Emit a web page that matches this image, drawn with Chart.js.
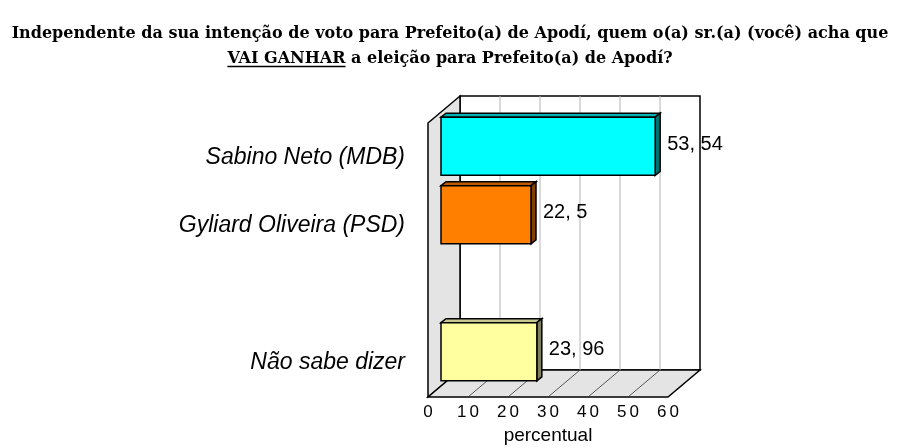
<!DOCTYPE html>
<html>
<head>
<meta charset="utf-8">
<script src="https://cdn.jsdelivr.net/npm/chart.js@4/dist/chart.umd.min.js"></script>
<style>
  html, body { margin: 0; padding: 0; background: #fff; }
  #wrap { width: 900px; height: 448px; }
</style>
</head>
<body>
<div id="wrap"><canvas id="chart" width="900" height="448"></canvas></div>
<script>
// --- données ---
const categories = ['Sabino Neto (MDB)', 'Gyliard Oliveira (PSD)', '', 'Não sabe dizer'];
const percentuais = [53.54, 22.5, null, 23.96];
const frontColors = ['#00ffff', '#ff8000', null, '#ffffa0'];
const topColors = ['#00b4b4', '#c05a00', null, '#c8c890'];
const sideColors = ['#007070', '#804000', null, '#808060'];
const xTicks = [0, 10, 20, 30, 40, 50, 60];
const titleLines = [
    'Independente da sua intenção de voto para Prefeito(a) de Apodí, quem o(a) sr.(a) (você) acha que',
    'VAI GANHAR a eleição para Prefeito(a) de Apodí?'
];
const underlined = 'VAI GANHAR';

// profondeur du graphique 3D (pixels)
const DEPTH = { x: 32, y: -27 };
const BAR_FRONT = { x: 13, y: -11 };
const BAR_DEPTH = { x: 5, y: -4 };

const TITLE_FONT = { family: '"DejaVu Serif", serif', size: 16, weight: 'bold', lineHeight: '25px' };

function poly(ctx, pts, fill) {
    ctx.beginPath();
    ctx.moveTo(pts[0][0], pts[0][1]);
    for (let i = 1; i < pts.length; i++) ctx.lineTo(pts[i][0], pts[i][1]);
    ctx.closePath();
    if (fill) { ctx.fillStyle = fill; ctx.fill(); }
    ctx.stroke();
}

// Dessine les murs, le sol et la grille en perspective
const wallsPlugin = {
    id: 'walls3d',
    afterLayout(chart) {
        // graduations de l'axe x un peu espacées, comme sur l'original
        const xs = chart.scales.x;
        if (xs._spaced) return;
        const orig = xs.drawLabels;
        xs.drawLabels = function (area) {
            const c = this.ctx;
            c.save();
            c.letterSpacing = '3px';
            c.translate(1.5, 0);
            orig.call(this, area);
            c.restore();
        };
        xs._spaced = true;
    },
    beforeDatasetsDraw(chart) {
        const ctx = chart.ctx;
        const a = chart.chartArea;
        const xs = chart.scales.x;
        const dx = DEPTH.x, dy = DEPTH.y;
        ctx.save();
        ctx.lineWidth = 1.5;
        ctx.strokeStyle = '#000';
        // mur du fond
        poly(ctx, [[a.left + dx, a.top + dy], [a.right + dx, a.top + dy], [a.right + dx, a.bottom + dy], [a.left + dx, a.bottom + dy]], '#fff');
        // mur gauche
        poly(ctx, [[a.left, a.top], [a.left + dx, a.top + dy], [a.left + dx, a.bottom + dy], [a.left, a.bottom]], '#e4e4e4');
        // sol
        poly(ctx, [[a.left, a.bottom], [a.left + dx, a.bottom + dy], [a.right + dx, a.bottom + dy], [a.right, a.bottom]], '#e4e4e4');

        // grille verticale sur le mur du fond + lignes du sol
        xTicks.forEach((v, i) => {
            if (i === 0 || i === xTicks.length - 1) return;
            const px = xs.getPixelForValue(v);
            ctx.lineWidth = 1;
            ctx.strokeStyle = '#b4b4b4';
            ctx.beginPath();
            ctx.moveTo(px + dx, a.top + dy);
            ctx.lineTo(px + dx, a.bottom + dy);
            ctx.stroke();
            ctx.strokeStyle = '#333';
            ctx.lineWidth = 0.8;
            ctx.beginPath();
            ctx.moveTo(px, a.bottom);
            ctx.lineTo(px + dx, a.bottom + dy);
            ctx.stroke();
        });

        // barres en 3D, à partir des éléments calculés par Chart.js
        const meta = chart.getDatasetMeta(0);
        ctx.lineWidth = 1.5;
        ctx.strokeStyle = '#000';
        meta.data.forEach((bar, i) => {
            if (percentuais[i] == null) return;
            const p = bar.getProps(['x', 'y', 'base', 'height'], true);
            const x0 = p.base + BAR_FRONT.x, x1 = p.x + BAR_FRONT.x;
            const y0 = p.y - p.height / 2 + BAR_FRONT.y, y1 = p.y + p.height / 2 + BAR_FRONT.y;
            const bx = BAR_DEPTH.x, by = BAR_DEPTH.y;
            poly(ctx, [[x0, y0], [x0 + bx, y0 + by], [x1 + bx, y0 + by], [x1, y0]], topColors[i]);
            poly(ctx, [[x1, y0], [x1 + bx, y0 + by], [x1 + bx, y1 + by], [x1, y1]], sideColors[i]);
            poly(ctx, [[x0, y0], [x1, y0], [x1, y1], [x0, y1]], frontColors[i]);

            // étiquette de valeur
            ctx.fillStyle = '#000';
            ctx.font = '20px Arial, "Liberation Sans", sans-serif';
            ctx.textAlign = 'left';
            ctx.textBaseline = 'middle';
            const txt = String(percentuais[i]).replace('.', ', ');
            ctx.fillText(txt, x1 + bx + 7, (y0 + y1) / 2 - 2);
        });
        ctx.restore();
        return false;
    },
    afterDraw(chart) {
        // soulignement de "VAI GANHAR" dans le titre
        const ctx = chart.ctx;
        const tb = chart.titleBlock;
        ctx.save();
        ctx.font = `${TITLE_FONT.weight} ${TITLE_FONT.size}px ${TITLE_FONT.family}`;
        const cx = (tb.left + tb.right) / 2;
        const w = ctx.measureText(titleLines[1]).width;
        const wu = ctx.measureText(underlined).width;
        const start = cx - w / 2;
        const y = tb.top + tb.options.padding.top + 25 * 1.5 + 8;
        ctx.strokeStyle = '#000';
        ctx.lineWidth = 1.4;
        ctx.beginPath();
        ctx.moveTo(start, y);
        ctx.lineTo(start + wu, y);
        ctx.stroke();
        ctx.restore();
    }
};

new Chart(document.getElementById('chart'), {
    type: 'bar',
    data: {
        labels: categories,
        datasets: [{
            data: percentuais,
            backgroundColor: frontColors,
            barPercentage: 0.85,
            categoryPercentage: 1
        }]
    },
    options: {
        indexAxis: 'y',
        responsive: false,
        animation: false,
        layout: { padding: 0 },
        plugins: {
            legend: { display: false },
            tooltip: { enabled: false },
            title: {
                display: true,
                text: titleLines,
                color: '#000',
                font: TITLE_FONT,
                padding: { top: 21, bottom: 52 }
            }
        },
        scales: {
            x: {
                min: 0,
                max: 60,
                afterBuildTicks: s => { s.ticks = xTicks.map(v => ({ value: v })); },
                afterFit: s => { s.height = 51; },
                grid: { display: false, drawTicks: false },
                border: { display: false },
                ticks: {
                    color: '#000',
                    padding: 5,
                    maxRotation: 0,
                    font: { family: 'Arial, "Liberation Sans", sans-serif', size: 17 }
                },
                title: {
                    display: true,
                    text: 'percentual',
                    color: '#000',
                    padding: { top: 0, bottom: 1 },
                    font: { family: 'Arial, "Liberation Sans", sans-serif', size: 19 }
                }
            },
            y: {
                afterFit: s => { s.width = 428; },
                grid: { display: false, drawTicks: false },
                border: { display: false },
                ticks: {
                    color: '#000',
                    padding: 23,
                    font: { family: 'Arial, "Liberation Sans", sans-serif', size: 23, style: 'italic' }
                }
            },
            // marge droite réservée (profondeur 3D + étiquettes)
            yRight: {
                type: 'category',
                position: 'right',
                afterFit: s => { s.width = 232; },
                grid: { display: false, drawTicks: false },
                border: { display: false },
                ticks: { display: false }
            }
        }
    },
    plugins: [wallsPlugin]
});
</script>
</body>
</html>
